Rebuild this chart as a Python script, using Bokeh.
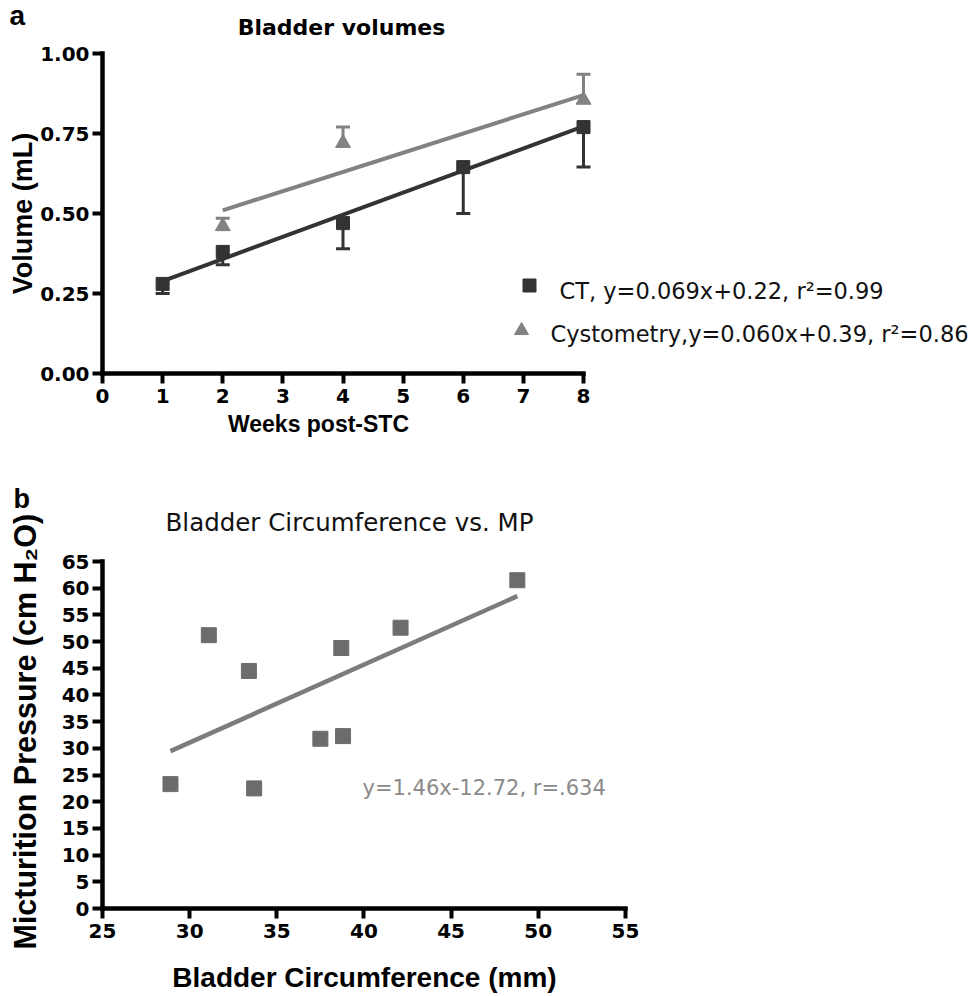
import math
from bokeh.plotting import figure
from bokeh.models import Range1d, FixedTicker, NumeralTickFormatter, Label
from bokeh.layouts import column
from bokeh.embed import file_html
from bokeh.resources import INLINE

# ---------------- data: panel a ----------------
weeks_ct = [1, 2, 4, 6, 8]
vol_ct = [0.28, 0.38, 0.47, 0.645, 0.77]
vol_ct_err_low = [0.25, 0.34, 0.39, 0.50, 0.645]
weeks_cy = [2, 4, 8]
vol_cy = [0.46, 0.72, 0.855]
vol_cy_err_high = [0.485, 0.77, 0.935]
ct_fit = [0.069, 0.22]        # slope, intercept
cy_fit = [0.060, 0.39]
ct_label = "CT, y=0.069x+0.22, r²=0.99"
cy_label = "Cystometry,y=0.060x+0.39, r²=0.86"
a_title = "Bladder volumes"
a_xlabel = "Weeks post-STC"
a_ylabel = "Volume (mL)"
a_xticks = [0, 1, 2, 3, 4, 5, 6, 7, 8]
a_yticks = [0.0, 0.25, 0.5, 0.75, 1.0]

# ---------------- data: panel b ----------------
circ = [28.9, 31.1, 33.4, 33.7, 37.5, 38.7, 38.8, 42.1, 48.8]
mp = [23.3, 51.2, 44.5, 22.5, 31.8, 48.8, 32.3, 52.6, 61.5]
b_fit = [1.46, -12.72]
b_eq = "y=1.46x-12.72, r=.634"
b_title = "Bladder Circumference vs. MP"
b_xlabel = "Bladder Circumference (mm)"
b_ylabel = "Micturition Pressure  (cm H₂O)"
b_xticks = [25, 30, 35, 40, 45, 50, 55]
b_yticks = [0, 5, 10, 15, 20, 25, 30, 35, 40, 45, 50, 55, 60, 65]

# ---------------- layout (page pixels) ----------------
W = 974
HA, HB = 476, 518
TOP_B = HA
# panel a scale: pixel of x=0, px per unit, pixel of y=0, px per unit
AX0, AXS, AY0, AYS = 102, 60.125, 373, 320.0
# panel b scale
BX0, BXS, BY0, BYS = 102, 17.43, 908, 5.338

CT_COL = "#333333"
CY_COL = "#828282"
B_PT = "#6c6c6c"
B_LINE = "#7c7c7c"
B_TXT = "#8a8a8a"
TICK_FONT = "DejaVu Sans"


def ax(px):
    return (px - AX0) / AXS


def ay(py):
    return (AY0 - py) / AYS


def bx(px):
    return b_xticks[0] + (px - BX0) / BXS


def by(py):
    return (BY0 - py) / BYS


def style(p, xticks, yticks, ylabel_fmt=None):
    p.xaxis.ticker = FixedTicker(ticks=xticks)
    p.yaxis.ticker = FixedTicker(ticks=yticks)
    p.xaxis.bounds = (xticks[0], xticks[-1])
    p.yaxis.bounds = (yticks[0], yticks[-1])
    p.xaxis.fixed_location = yticks[0]
    p.yaxis.fixed_location = xticks[0]
    if ylabel_fmt:
        p.yaxis.formatter = NumeralTickFormatter(format=ylabel_fmt)
    for a in p.axis:
        a.axis_line_width = 4.5
        a.axis_line_color = "black"
        a.axis_line_cap = "square"
        a.major_tick_line_width = 4
        a.major_tick_line_color = "black"
        a.major_tick_out = 10
        a.major_tick_in = 0
        a.minor_tick_line_color = None
        a.major_label_text_font = TICK_FONT
        a.major_label_text_font_style = "bold"
        a.major_label_text_font_size = "20px"
        a.major_label_text_color = "black"
        a.major_label_standoff = 3
    p.xaxis.major_label_standoff = 5
    p.xgrid.visible = False
    p.ygrid.visible = False
    p.outline_line_color = None
    p.background_fill_color = "white"
    p.border_fill_color = "white"


def lab(p, x, y, text, font, size, bold=False, color="black", align="center",
        baseline="middle", angle=0.0):
    p.add_layout(Label(x=x, y=y, text=text, text_font=font,
                       text_font_size=size,
                       text_font_style="bold" if bold else "normal",
                       text_color=color, text_align=align,
                       text_baseline=baseline, angle=angle))


# ================= panel a =================
pa = figure(width=W, height=HA, output_backend="svg", toolbar_location=None,
            x_range=Range1d(ax(0), ax(W)),
            y_range=Range1d(ay(HA), ay(0)),
            min_border_left=0, min_border_right=0, min_border_top=0,
            min_border_bottom=0)
style(pa, a_xticks, a_yticks, "0.00")

# fit lines
ct_x = [min(weeks_ct), max(weeks_ct)]
cy_x = [min(weeks_cy), max(weeks_cy)]
pa.line(ct_x, [ct_fit[0] * v + ct_fit[1] for v in ct_x], line_color=CT_COL, line_width=4)
pa.line(cy_x, [cy_fit[0] * v + cy_fit[1] for v in cy_x], line_color=CY_COL, line_width=4)

# error bars (one-sided)
pa.segment(x0=weeks_ct, y0=vol_ct, x1=weeks_ct, y1=vol_ct_err_low, line_color=CT_COL, line_width=3)
pa.scatter(weeks_ct, vol_ct_err_low, marker="dash", size=14, line_color=CT_COL, line_width=3)
pa.segment(x0=weeks_cy, y0=vol_cy, x1=weeks_cy, y1=vol_cy_err_high, line_color=CY_COL, line_width=3)
pa.scatter(weeks_cy, vol_cy_err_high, marker="dash", size=14, line_color=CY_COL, line_width=3)

# points
pa.scatter(weeks_ct, vol_ct, marker="square", size=13, fill_color=CT_COL, line_color=CT_COL)
pa.scatter(weeks_cy, vol_cy, marker="triangle", size=15, fill_color=CY_COL, line_color=CY_COL)

# legend
pa.scatter([ax(529)], [ay(285)], marker="square", size=13, fill_color=CT_COL, line_color=CT_COL)
pa.scatter([ax(521)], [ay(330)], marker="triangle", size=14, fill_color=CY_COL, line_color=CY_COL)
lab(pa, ax(559), ay(290), ct_label, "DejaVu Sans", "22.5px", align="left", color="#111111")
lab(pa, ax(550), ay(333), cy_label, "DejaVu Sans", "22.5px", align="left", color="#111111")

# texts
lab(pa, ax(341), ay(27), a_title, "DejaVu Sans", "22px", bold=True)
lab(pa, ax(9), ay(15), "a", "Liberation Sans", "28px", bold=True, align="left")
lab(pa, ax(22), ay(213), a_ylabel, "Liberation Sans", "27px", bold=True, angle=math.pi / 2)
lab(pa, ax(318), ay(423), a_xlabel, "Liberation Sans", "23px", bold=True)

# ================= panel b =================
pb = figure(width=W, height=HB, output_backend="svg", toolbar_location=None,
            x_range=Range1d(bx(0), bx(W)),
            y_range=Range1d(by(TOP_B + HB), by(TOP_B)),
            min_border_left=0, min_border_right=0, min_border_top=0,
            min_border_bottom=0)
style(pb, b_xticks, b_yticks)

bfx = [min(circ), max(circ)]
pb.line(bfx, [b_fit[0] * v + b_fit[1] for v in bfx], line_color=B_LINE, line_width=4.5)
pb.scatter(circ, mp, marker="square", size=15, fill_color=B_PT, line_color=B_PT)

lab(pb, bx(362), by(787), b_eq, "DejaVu Sans", "21px", color=B_TXT, align="left")
lab(pb, bx(349), by(522), b_title, "DejaVu Sans", "24.5px", color="#111111")
lab(pb, bx(13), by(498), "b", "Liberation Sans", "27px", bold=True, align="left")
lab(pb, bx(24), by(727), b_ylabel, "Liberation Sans", "30.5px", bold=True, angle=math.pi / 2)
lab(pb, bx(364), by(977), b_xlabel, "Liberation Sans", "28px", bold=True)

layout = column(pa, pb)
open("out.html", "w").write(file_html(layout, INLINE))
